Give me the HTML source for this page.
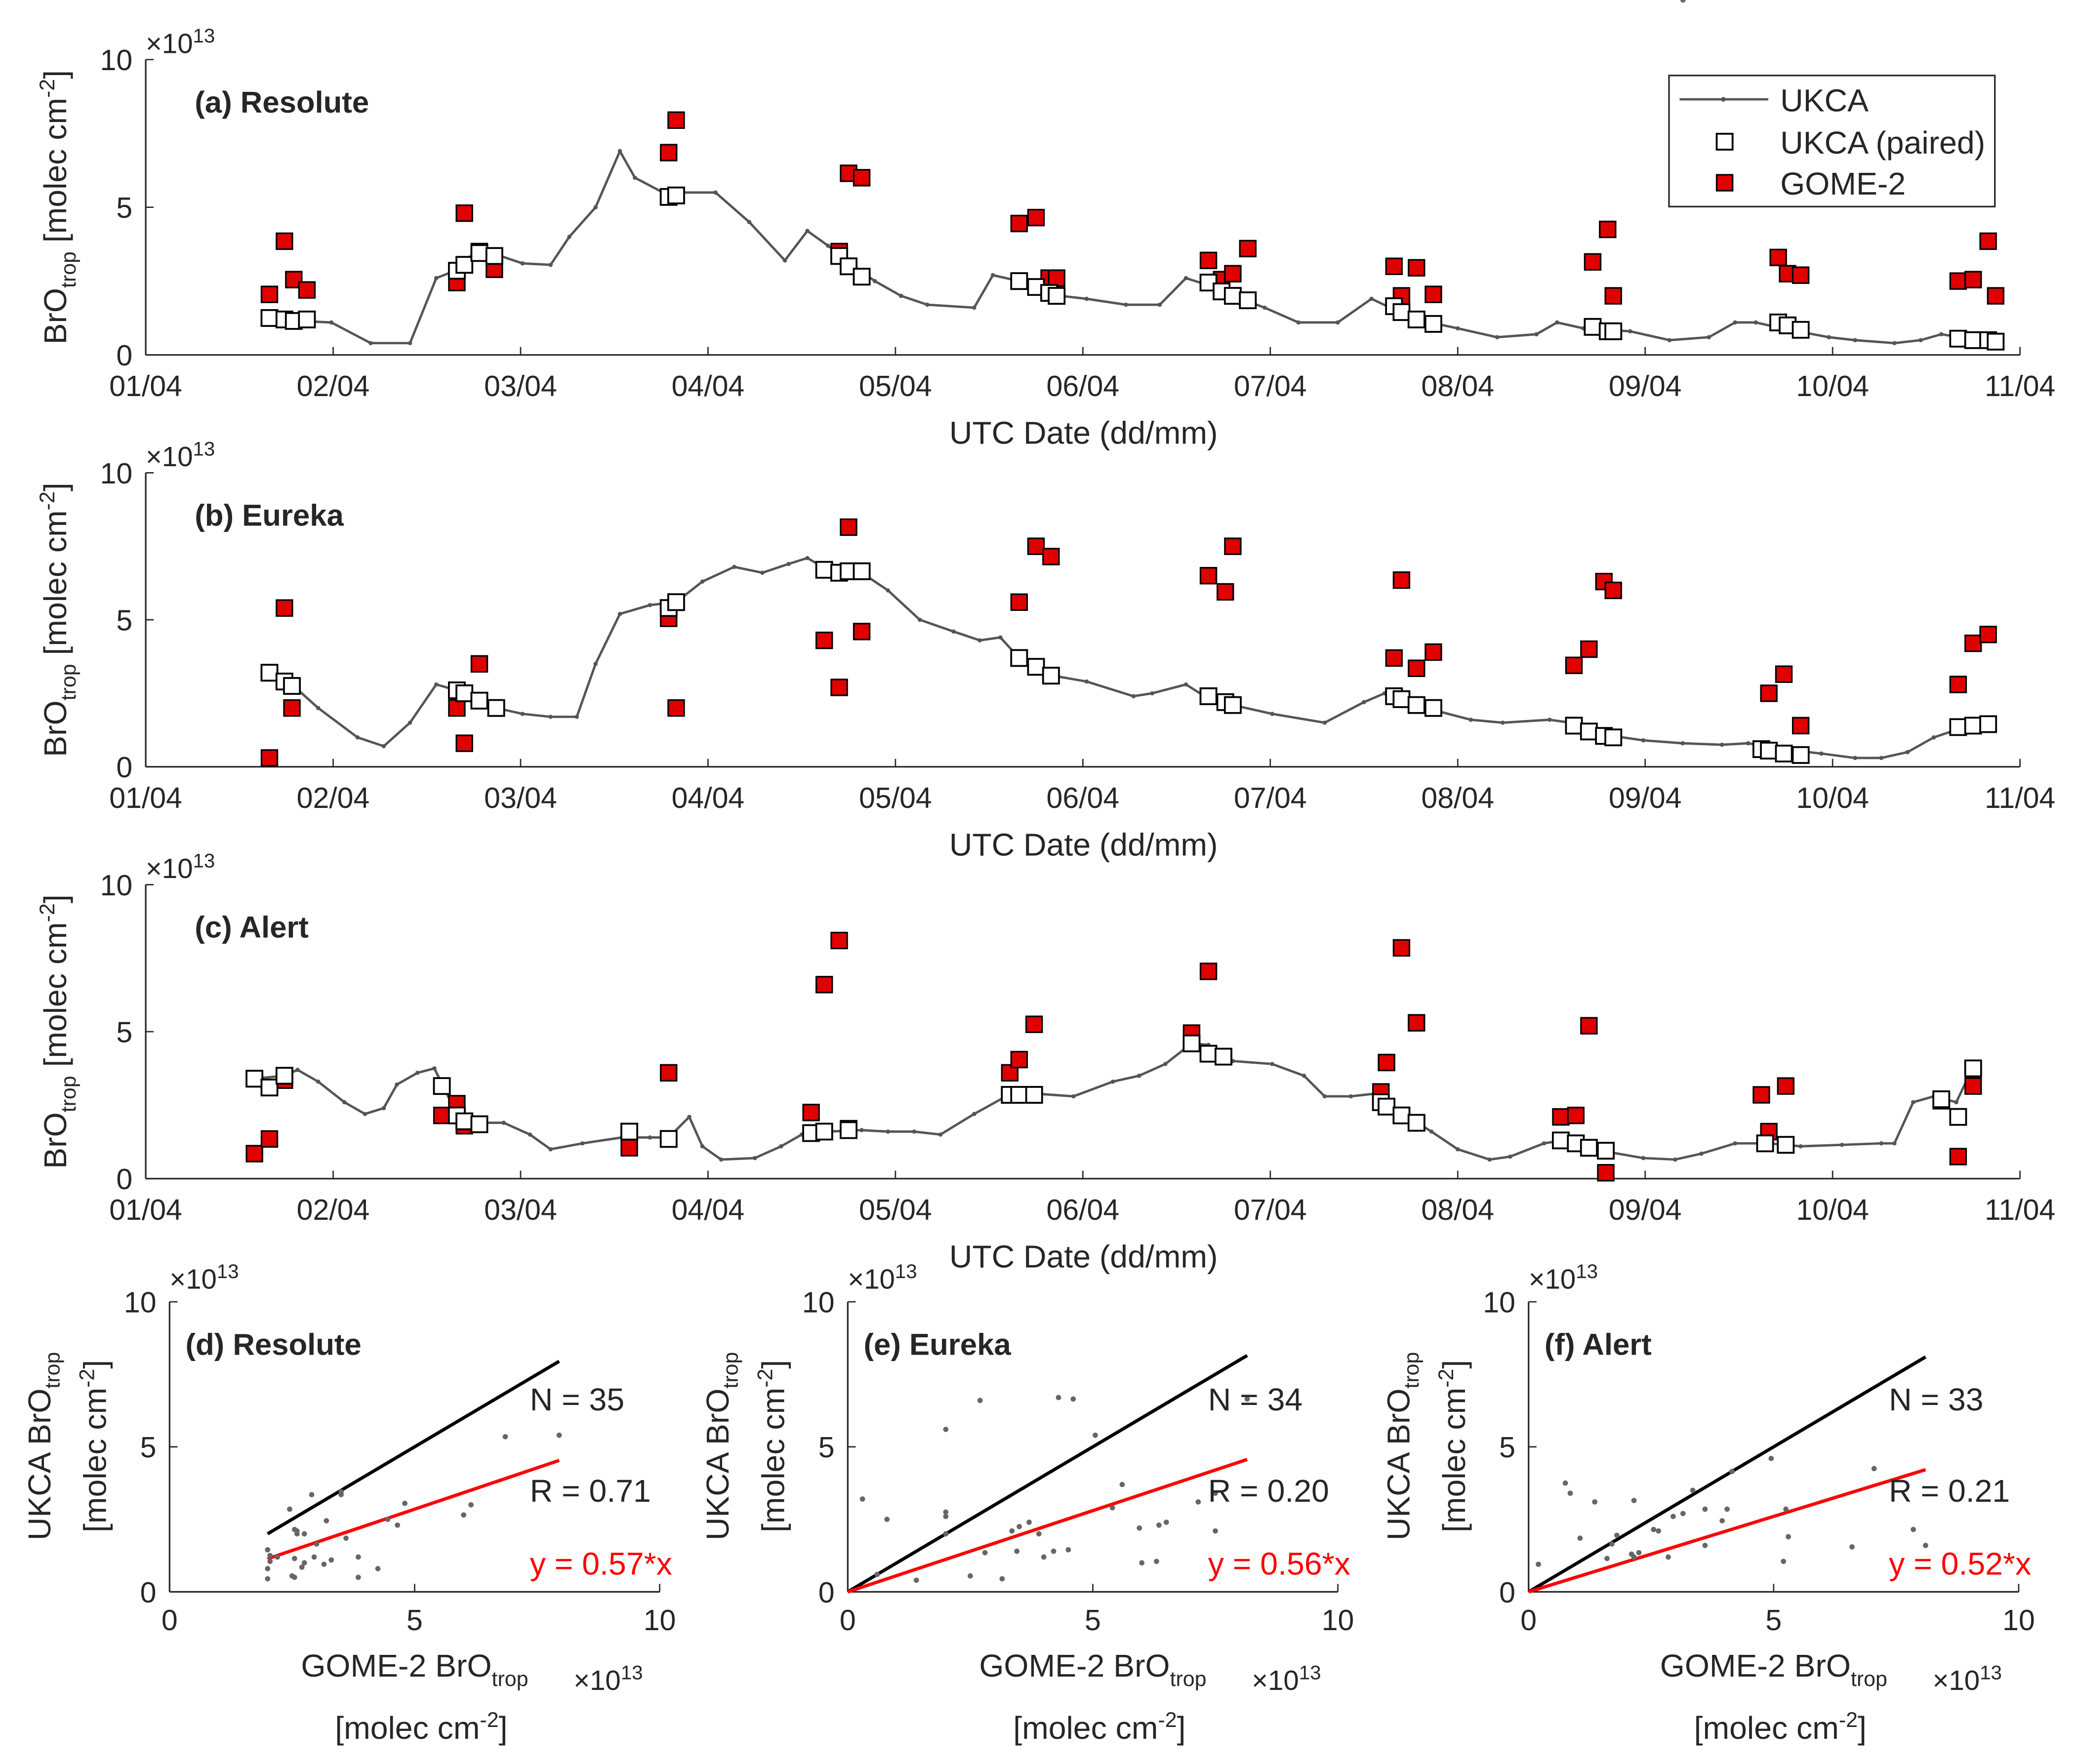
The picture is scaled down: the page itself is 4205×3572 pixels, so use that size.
<!DOCTYPE html>
<html><head><meta charset="utf-8"><style>
html,body{margin:0;padding:0;background:#fff}
svg{display:block;font-family:"Liberation Sans",Arial,sans-serif}
</style></head><body>
<svg id="fig" xmlns="http://www.w3.org/2000/svg" width="4205" height="3572" viewBox="0 0 1568 1332">
<rect width="1568" height="1332" fill="#fff"/>
</svg>
<script>
// ---------- DATA ----------
const dateTicks = ['01/04','02/04','03/04','04/04','05/04','06/04','07/04','08/04','09/04','10/04','11/04'];
const yTicks = [0,5,10];
const panelTitles = ['(a) Resolute','(b) Eureka','(c) Alert'];
const scatterTitles = ['(d) Resolute','(e) Eureka','(f) Alert'];
const nLabels = ['N = 35','N = 34','N = 33'];
const rLabels = ['R = 0.71','R = 0.20','R = 0.21'];
const slopes = [0.57,0.56,0.52];
const fitStart = [2.0,0,0];

// Resolute
const ukcaA_t = [0.64,0.99,1.20,1.41,1.55,1.63,1.73,1.87,2.01,2.16,2.26,2.40,2.53,2.61,2.76,3.04,3.22,3.41,3.53,3.64,3.78,3.89,4.03,4.17,4.42,4.52,4.66,4.88,5.02,5.23,5.41,5.55,5.65,5.80,5.97,6.15,6.36,6.54,6.64,6.78,7.00,7.21,7.42,7.53,7.67,7.92,8.13,8.34,8.48,8.59,8.73,8.98,9.12,9.33,9.47,9.58,9.68,9.89];
const ukcaA_v = [1.2,1.1,0.4,0.4,2.6,2.8,3.3,3.4,3.1,3.05,4.0,5.0,6.9,6.0,5.5,5.5,4.5,3.2,4.2,3.7,3.0,2.5,2.0,1.7,1.6,2.7,2.5,2.0,1.9,1.7,1.7,2.6,2.4,2.0,1.6,1.1,1.1,1.9,1.6,1.2,0.9,0.6,0.7,1.1,0.9,0.8,0.5,0.6,1.1,1.1,0.9,0.6,0.5,0.4,0.5,0.7,0.6,0.5];
const pairA_t = [0.66,0.74,0.79,0.86,1.66,1.70,1.78,1.86,2.79,2.83,3.70,3.75,3.82,4.66,4.75,4.82,4.86,5.67,5.74,5.80,5.88,6.66,6.70,6.78,6.87,7.72,7.80,7.83,8.71,8.76,8.83,9.67,9.75,9.83,9.87];
const pairA_v = [1.25,1.2,1.15,1.2,2.85,3.05,3.45,3.35,5.35,5.4,3.35,3.0,2.65,2.5,2.3,2.1,2.0,2.45,2.15,2.0,1.85,1.65,1.45,1.2,1.05,0.95,0.8,0.8,1.1,1.0,0.85,0.55,0.5,0.5,0.45];
const gomeA_v = [2.05,3.85,2.55,2.2,2.45,4.8,3.5,2.9,6.85,7.95,3.5,6.15,6.0,4.45,4.65,2.6,2.6,3.2,2.55,2.75,3.6,3.0,2.0,2.95,2.05,3.15,4.25,2.0,3.3,2.75,2.7,2.5,2.55,3.85,2.0];

// Eureka
const ukcaB_t = [0.66,0.78,0.92,1.13,1.27,1.41,1.55,1.66,1.77,1.87,2.01,2.16,2.30,2.40,2.53,2.69,2.83,2.97,3.14,3.29,3.43,3.53,3.64,3.82,3.96,4.13,4.31,4.45,4.56,4.66,4.84,5.02,5.27,5.37,5.55,5.65,5.80,6.01,6.29,6.50,6.61,6.71,6.89,7.07,7.24,7.49,7.60,7.77,7.99,8.20,8.41,8.55,8.73,8.94,9.12,9.26,9.40,9.54,9.68,9.86];
const ukcaB_v = [3.2,2.8,2.0,1.0,0.7,1.5,2.8,2.6,2.3,2.0,1.8,1.7,1.7,3.5,5.2,5.5,5.6,6.3,6.8,6.6,6.9,7.1,6.7,6.6,6.0,5.0,4.6,4.3,4.4,3.7,3.1,2.9,2.4,2.5,2.8,2.4,2.1,1.8,1.5,2.2,2.5,2.3,1.9,1.6,1.5,1.6,1.5,1.1,0.9,0.8,0.75,0.8,0.6,0.45,0.3,0.3,0.5,1.0,1.3,1.4];
const pairB_t = [0.66,0.74,0.78,1.66,1.70,1.78,1.87,2.79,2.83,3.62,3.70,3.75,3.82,4.66,4.75,4.83,5.67,5.76,5.80,6.66,6.70,6.78,6.87,7.62,7.70,7.78,7.83,8.62,8.66,8.74,8.83,9.67,9.75,9.83];
const pairB_v = [3.2,2.9,2.75,2.6,2.5,2.25,2.0,5.4,5.6,6.7,6.6,6.65,6.65,3.7,3.4,3.1,2.4,2.2,2.1,2.4,2.3,2.1,2.0,1.4,1.2,1.05,1.0,0.6,0.55,0.45,0.4,1.35,1.4,1.45];
const gomeB_v = [0.3,5.4,2.0,2.0,0.8,3.5,2.0,5.05,2.0,4.3,2.7,8.15,4.6,5.6,7.5,7.15,6.5,5.95,7.5,3.7,6.35,3.35,3.9,3.45,4.0,6.3,6.0,0.6,2.5,3.15,1.4,2.8,4.2,4.5];

// Alert
const ukcaC_t = [0.58,0.74,0.81,0.92,1.06,1.17,1.27,1.34,1.45,1.54,1.59,1.66,1.77,1.91,2.05,2.16,2.33,2.54,2.69,2.79,2.90,2.97,3.07,3.25,3.39,3.50,3.64,3.82,3.96,4.10,4.24,4.42,4.59,4.73,4.95,5.16,5.30,5.44,5.58,5.67,5.80,6.01,6.18,6.29,6.43,6.57,6.71,6.86,7.00,7.17,7.28,7.46,7.56,7.67,7.81,7.99,8.16,8.30,8.48,8.66,8.83,9.05,9.26,9.33,9.43,9.54,9.66,9.75];
const ukcaC_v = [3.4,3.5,3.7,3.3,2.6,2.2,2.4,3.2,3.6,3.75,3.1,2.2,1.9,1.9,1.5,1.0,1.2,1.4,1.4,1.4,2.1,1.1,0.65,0.7,1.1,1.5,1.6,1.65,1.6,1.6,1.5,2.2,2.8,2.9,2.8,3.3,3.5,3.9,4.6,4.55,4.0,3.9,3.5,2.8,2.8,2.9,2.2,1.6,1.0,0.65,0.75,1.2,1.3,1.2,0.9,0.7,0.65,0.85,1.2,1.2,1.1,1.15,1.2,1.2,2.6,2.8,2.6,3.8];
const pairC_t = [0.58,0.66,0.74,1.58,1.66,1.70,1.78,2.58,2.79,3.55,3.62,3.75,4.61,4.66,4.74,5.58,5.67,5.75,6.59,6.62,6.70,6.78,7.55,7.63,7.70,7.79,8.64,8.75,9.58,9.67,9.75];
const pairC_v = [3.4,3.1,3.5,3.15,2.15,1.95,1.85,1.6,1.35,1.55,1.6,1.65,2.85,2.85,2.85,4.6,4.25,4.15,2.6,2.45,2.15,1.9,1.3,1.2,1.05,0.95,1.2,1.15,2.7,2.1,3.75];
const gomeC_t = [0.58,0.66,0.74,1.58,1.66,1.70,2.58,2.79,3.55,3.62,3.70,3.75,4.61,4.66,4.74,5.58,5.67,5.75,6.59,6.62,6.70,6.78,7.55,7.63,7.70,7.79,8.62,8.66,8.75,9.58,9.67,9.75];
const gomeC_v = [0.85,1.35,3.35,2.15,2.55,1.8,1.05,3.6,2.25,6.6,8.1,1.7,3.6,4.05,5.25,4.95,7.05,4.15,2.95,3.95,7.85,5.3,2.1,2.15,5.2,0.2,2.85,1.6,3.15,2.65,0.75,3.15];

// ---------- DRAWING ----------
const NS='http://www.w3.org/2000/svg';
const svg=document.getElementById('fig');
const FT=22, FA=24;
function mk(tag,attrs,parent){const e=document.createElementNS(NS,tag);for(const k in attrs)e.setAttribute(k,attrs[k]);(parent||svg).appendChild(e);return e;}
function txt(x,y,s,opt,parent){opt=opt||{};const t=mk('text',{x:x,y:y,'font-size':opt.size||FT,fill:opt.fill||'#262626','text-anchor':opt.anchor||'start','font-weight':opt.bold?'bold':'normal'},parent);if(opt.rot)t.setAttribute('transform','rotate(-90 '+x+' '+y+')');t.innerHTML=s;return t;}
const X0=110,X1=1525;
const tops=[45,357,668],bots=[268,579,890];
const tsData=[
 {lt:ukcaA_t,lv:ukcaA_v,pt:pairA_t,pv:pairA_v,gt:pairA_t,gv:gomeA_v},
 {lt:ukcaB_t,lv:ukcaB_v,pt:pairB_t,pv:pairB_v,gt:pairB_t,gv:gomeB_v},
 {lt:ukcaC_t,lv:ukcaC_v,pt:pairC_t,pv:pairC_v,gt:gomeC_t,gv:gomeC_v}];
tsData.forEach((d,i)=>{
  const g=mk('g',{});
  
  
  const xs=t=>X0+(X1-X0)*t/10, ys=v=>bots[i]-(bots[i]-tops[i])*v/10;
  mk('line',{x1:X0,y1:bots[i],x2:X1,y2:bots[i],stroke:'#262626','stroke-width':1.2},g);
  mk('line',{x1:X0,y1:tops[i],x2:X0,y2:bots[i],stroke:'#262626','stroke-width':1.2},g);
  dateTicks.forEach((lab,k)=>{const x=xs(k);mk('line',{x1:x,y1:bots[i],x2:x,y2:bots[i]-6,stroke:'#262626'},g);const t=txt(x,bots[i]+31,lab,{anchor:'middle'},g);});
  yTicks.forEach(v=>{const y=ys(v);mk('line',{x1:X0,y1:y,x2:X0+6,y2:y,stroke:'#262626'},g);const t=txt(X0-10,y+8,String(v),{anchor:'end'},g);});
  const xl=txt(818,bots[i]+67,'UTC Date (dd/mm)',{anchor:'middle',size:FA},g);
  
  const yl=txt(50,(tops[i]+bots[i])/2,'BrO<tspan font-size="16" dy="7">trop</tspan><tspan dy="-7"> [molec cm</tspan><tspan font-size="16" dy="-9">-2</tspan><tspan dy="9">]</tspan>',{anchor:'middle',rot:true,size:FA},g);
  
  const ex=txt(110,tops[i]-5,'×10<tspan font-size="15" dy="-8">13</tspan>',{size:21},g);
  
  const ti=txt(147,tops[i]+40,panelTitles[i],{bold:true,size:23},g);
  
  const pts=d.lt.map((t,k)=>xs(t)+','+ys(d.lv[k])).join(' ');
  const pl=mk('polyline',{points:pts,fill:'none',stroke:'#555','stroke-width':1.8},g);
  
  d.lt.forEach((t,k)=>{const c=mk('circle',{cx:xs(t),cy:ys(d.lv[k]),r:1.6,fill:'#555'},g);});
  d.gt.forEach((t,k)=>{const r=mk('rect',{x:xs(t)-6,y:ys(d.gv[k])-6,width:12,height:12,fill:'#e00000',stroke:'#000','stroke-width':1.2},g);});
  d.pt.forEach((t,k)=>{const r=mk('rect',{x:xs(t)-6,y:ys(d.pv[k])-6,width:12,height:12,fill:'#fff',stroke:'#000','stroke-width':1.4},g);});
});
// legend
const lg=mk('g',{});


mk('rect',{x:1260,y:57,width:246,height:99,fill:'#fff',stroke:'#262626','stroke-width':1.2},lg);
mk('line',{x1:1268,y1:75,x2:1335,y2:75,stroke:'#555','stroke-width':1.8},lg);
mk('circle',{cx:1301,cy:75,r:1.8,fill:'#555'},lg);
mk('rect',{x:1296,y:101,width:12,height:12,fill:'#fff',stroke:'#000','stroke-width':1.4},lg);
mk('rect',{x:1296,y:132,width:12,height:12,fill:'#e00000',stroke:'#000','stroke-width':1.2},lg);
txt(1344,84,'UKCA',{size:FA},lg);txt(1344,116,'UKCA (paired)',{size:FA},lg);txt(1344,147,'GOME-2',{size:FA},lg);

// scatter panels
const SX0=[128,640,1154],SW=370,ST=983,SB=1202;
const scData=[[gomeA_v,pairA_v],[gomeB_v,pairB_v],[gomeC_v,pairC_v]];
scData.forEach((d,i)=>{
  const g=mk('g',{});
  
  
  const xs=v=>SX0[i]+SW*v/10, ys=v=>SB-(SB-ST)*v/10;
  mk('line',{x1:SX0[i],y1:SB,x2:SX0[i]+SW,y2:SB,stroke:'#262626','stroke-width':1.2},g);
  mk('line',{x1:SX0[i],y1:ST,x2:SX0[i],y2:SB,stroke:'#262626','stroke-width':1.2},g);
  yTicks.forEach(v=>{
    mk('line',{x1:xs(v),y1:SB,x2:xs(v),y2:SB-6,stroke:'#262626'},g);
    const a=txt(xs(v),SB+29,String(v),{anchor:'middle'},g);
    mk('line',{x1:SX0[i],y1:ys(v),x2:SX0[i]+6,y2:ys(v),stroke:'#262626'},g);
    const b=txt(SX0[i]-10,ys(v)+8,String(v),{anchor:'end'},g);
  });
  const ex1=txt(SX0[i],ST-10,'×10<tspan font-size="15" dy="-8">13</tspan>',{size:21},g);
  
  const ex2=txt(SX0[i]+305,SB+74,'×10<tspan font-size="15" dy="-8">13</tspan>',{size:21},g);
  
  const yl1=txt(SX0[i]-90,1092,'UKCA BrO<tspan font-size="16" dy="7">trop</tspan>',{anchor:'middle',rot:true,size:FA},g);
  
  const yl2=txt(SX0[i]-48,1092,'[molec cm<tspan font-size="16" dy="-9">-2</tspan><tspan dy="9">]</tspan>',{anchor:'middle',rot:true,size:FA},g);
  
  const xl1=txt(SX0[i]+185,1266,'GOME-2 BrO<tspan font-size="16" dy="7">trop</tspan>',{anchor:'middle',size:FA},g);
  
  const xl2=txt(SX0[i]+190,1313,'[molec cm<tspan font-size="16" dy="-9">-2</tspan><tspan dy="9">]</tspan>',{anchor:'middle',size:FA},g);
  
  const gx=d[0],uy=d[1];
  const mn=fitStart[i],mx=Math.max(...gx);
  const l1=mk('line',{x1:xs(mn),y1:ys(mn),x2:xs(mx),y2:ys(mx),stroke:'#000','stroke-width':2.5},g);
  
  const l2=mk('line',{x1:xs(mn),y1:ys(slopes[i]*mn),x2:xs(mx),y2:ys(slopes[i]*mx),stroke:'#f00','stroke-width':2.5},g);
  
  gx.forEach((v,k)=>{const c=mk('circle',{cx:xs(v),cy:ys(uy[k]),r:2,fill:'#666'},g);});
  const t1=txt(SX0[i]+12,ST+40,scatterTitles[i],{bold:true,size:23},g);
  const t2=txt(SX0[i]+272,1065,nLabels[i],{size:FA},g);
  const t3=txt(SX0[i]+272,1134,rLabels[i],{size:FA},g);
  const t4=txt(SX0[i]+272,1189,'y = '+slopes[i]+'*x',{fill:'#f00',size:FA},g);
});
</script>
</body></html>
